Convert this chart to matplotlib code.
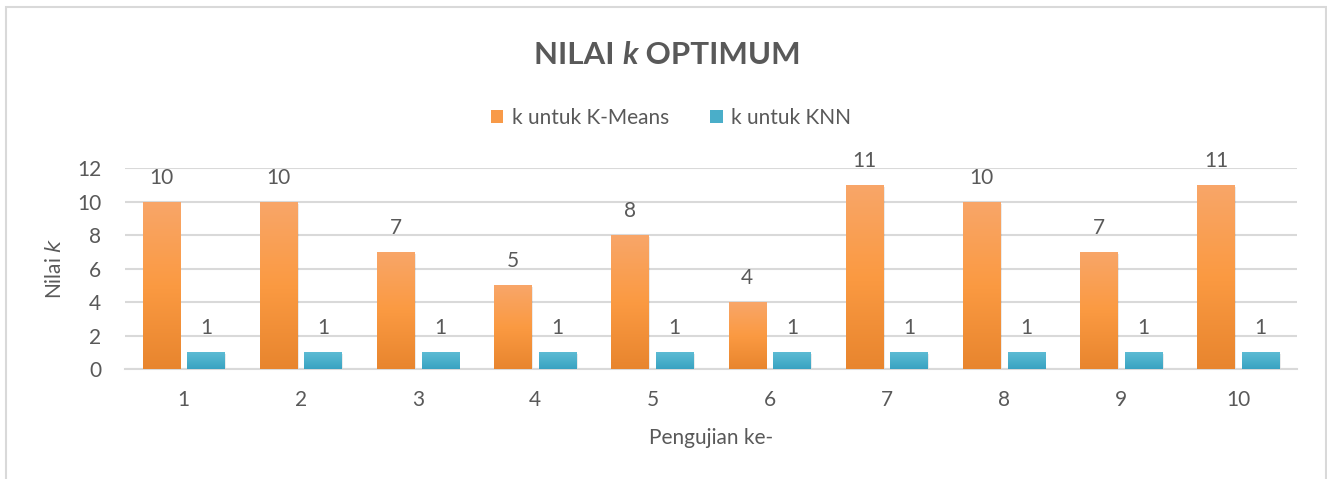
import matplotlib
matplotlib.use("Agg")
import matplotlib.pyplot as plt
import numpy as np
from matplotlib.colors import LinearSegmentedColormap
from matplotlib.patches import Rectangle, Patch

categories = ["1", "2", "3", "4", "5", "6", "7", "8", "9", "10"]
kmeans_k = [10, 10, 7, 5, 8, 4, 11, 10, 7, 11]
knn_k = [1, 1, 1, 1, 1, 1, 1, 1, 1, 1]
series_names = ["k untuk K-Means", "k untuk KNN"]
yticks = [0, 2, 4, 6, 8, 10, 12]

plt.rcParams['font.family'] = ['Lato', 'DejaVu Sans']
TXT = "#595959"
GRID = "#d9d9d9"
FS = 15

fig = plt.figure(figsize=(13.27, 4.79), dpi=100)
ax = fig.add_axes([125/1327, (479-369)/479, (1297-125)/1327, (369-168)/479])

x = np.arange(len(categories))
w = 0.32
gap = 0.06
off = (w + gap) / 2

orange_cmap = LinearSegmentedColormap.from_list("o", ["#e8852e", "#fb9a42", "#f8a669"])
teal_cmap = LinearSegmentedColormap.from_list("t", ["#3aa2c2", "#4bb0cb", "#5dbbd4"])

grad = np.linspace(0, 1, 256).reshape(-1, 1)

def gradient_bars(xs, vals, cmap, label):
    bars = ax.bar(xs, vals, w, color=cmap(0.5), label=label, zorder=3)
    for b in bars:
        sh = Rectangle((b.get_x() + 0.012, -0.12), b.get_width(), b.get_height(),
                       facecolor="#000000", alpha=0.08, zorder=2, linewidth=0)
        ax.add_patch(sh)
        im = ax.imshow(grad, cmap=cmap, origin="lower", aspect="auto",
                       extent=[b.get_x(), b.get_x() + b.get_width(), 0, b.get_height()],
                       zorder=4)
        im.set_clip_path(b)
    return bars

b1 = gradient_bars(x - off, kmeans_k, orange_cmap, series_names[0])
b2 = gradient_bars(x + off, knn_k, teal_cmap, series_names[1])

for xs, vals in ((x - off, kmeans_k), (x + off, knn_k)):
    for xi, v in zip(xs, vals):
        ax.annotate(str(v), (xi, v), xytext=(0, 18), textcoords="offset pixels",
                    ha="center", va="baseline", fontsize=FS, color=TXT)

ax.set_xlim(-0.5, len(categories) - 0.5)
ax.set_ylim(0, 12)
ax.set_yticks(yticks)
ax.set_xticks(x)
ax.set_xticklabels(categories)
ax.tick_params(axis="both", length=0, labelsize=FS, labelcolor=TXT)
ax.tick_params(axis="y", pad=17)
ax.tick_params(axis="x", pad=15)
ax.grid(axis="y", color=GRID, linewidth=1.5, zorder=0)
ax.set_axisbelow(True)
for s in ["top", "right", "left"]:
    ax.spines[s].set_visible(False)
ax.spines["bottom"].set_color(GRID)
ax.spines["bottom"].set_linewidth(1.5)

ax.set_xlabel("Pengujian ke-", fontsize=FS, color=TXT, labelpad=13)
ax.set_ylabel(r"Nilai $\it{k}$", fontsize=FS, color=TXT, labelpad=9)

# Title with italic k
fig.canvas.draw()
r = fig.canvas.get_renderer()
fs = 22.5
parts = [("NILAI ", "normal"), ("k", "italic"), (" OPTIMUM", "normal")]
texts = []
for s, st in parts:
    t = fig.text(0, 0, s, fontsize=fs, fontweight="bold", style=st, color=TXT,
                 ha="left", va="center")
    texts.append(t)
widths = [t.get_window_extent(r).width for t in texts]
total = sum(widths)
xpix = 667 - total / 2
ypix = 479 - 55
for t, wd in zip(texts, widths):
    t.set_position((xpix / 1327, ypix / 479))
    xpix += wd

handles = [Patch(facecolor="#f89a48"), Patch(facecolor="#4aaec9")]
leg = fig.legend(handles, series_names, loc="center", bbox_to_anchor=(671/1327, (479-118)/479),
                 ncol=2, frameon=False, fontsize=FS, labelcolor=TXT,
                 handlelength=0.6, handleheight=0.6, handletextpad=0.4, columnspacing=2.0)

fig.patches.append(Rectangle((6/1327, -0.1), (1326-6)/1327, (479-7)/479 + 0.1,
                             transform=fig.transFigure, fill=False, edgecolor=GRID,
                             linewidth=1.5))

fig.savefig("out.png", dpi=100)
